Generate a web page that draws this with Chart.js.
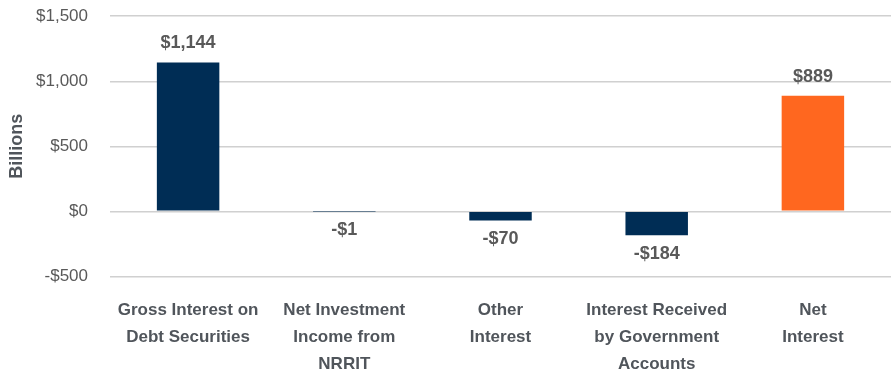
<!DOCTYPE html>
<html>
<head>
<meta charset="utf-8">
<script src="https://cdn.jsdelivr.net/npm/chart.js@4"></script>
<style>
  html, body { margin: 0; padding: 0; background: #fff; overflow: hidden; }
  #wrap { width: 891px; height: 414px; margin-top: -16px; }
</style>
</head>
<body>
<div id="wrap"><canvas id="grafico_juros"></canvas></div>
<script>
const categorias = [
  ['Gross Interest on', 'Debt Securities'],
  ['Net Investment', 'Income from', 'NRRIT'],
  ['Other', 'Interest'],
  ['Interest Received', 'by Government', 'Accounts'],
  ['Net', 'Interest']
];
const valores = [1144, -1, -70, -184, 889];
const rotulos = ['$1,144', '-$1', '-$70', '-$184', '$889'];
const cores = ['#002D55', '#002D55', '#002D55', '#002D55', '#FF671F'];

const fonte = "'Liberation Sans Narrow', 'Liberation Sans', Arial, sans-serif";

const rotulosPlugin = {
  id: 'rotulos',
  afterDatasetsDraw(chart) {
    const ctx = chart.ctx;
    const meta = chart.getDatasetMeta(0);
    ctx.save();
    ctx.font = "bold 18px " + fonte;
    ctx.fillStyle = '#595959';
    ctx.textAlign = 'center';
    ctx.textBaseline = 'middle';
    meta.data.forEach((bar, i) => {
      const v = valores[i];
      const y = v >= 0 ? bar.y - 19 : bar.y + 19;
      ctx.fillText(rotulos[i], bar.x, y);
    });
    ctx.restore();
  }
};

new Chart(document.getElementById('grafico_juros'), {
  type: 'bar',
  data: {
    labels: categorias,
    datasets: [{
      data: valores,
      backgroundColor: cores,
      barPercentage: 0.4,
      categoryPercentage: 1
    }]
  },
  options: {
    responsive: true,
    maintainAspectRatio: false,
    animation: false,
    layout: { padding: { top: 4, right: 0, left: 6, bottom: 0 } },
    plugins: {
      legend: { display: false },
      tooltip: { enabled: false }
    },
    scales: {
      x: {
        grid: { display: false, drawTicks: false },
        border: { display: false },
        ticks: {
          color: '#50555b',
          font: { family: fonte, size: 17, weight: 'bold', lineHeight: 1.6 },
          padding: 20,
          maxRotation: 0
        }
      },
      y: {
        min: -500,
        max: 1500,
        afterFit(s) { s.width = 104; },
        grid: { color: '#d0d0d0', lineWidth: 1.5, drawTicks: false },
        border: { display: false },
        ticks: {
          stepSize: 500,
          color: '#595959',
          padding: 22,
          font: { family: fonte, size: 17 },
          callback: (v) => (v < 0 ? '-$' : '$') + Math.abs(v).toLocaleString('en-US')
        },
        title: {
          display: true,
          text: 'Billions',
          color: '#50555b',
          font: { family: fonte, size: 18, weight: 'bold' },
          padding: 0
        }
      }
    }
  },
  plugins: [rotulosPlugin]
});
</script>
</body>
</html>
